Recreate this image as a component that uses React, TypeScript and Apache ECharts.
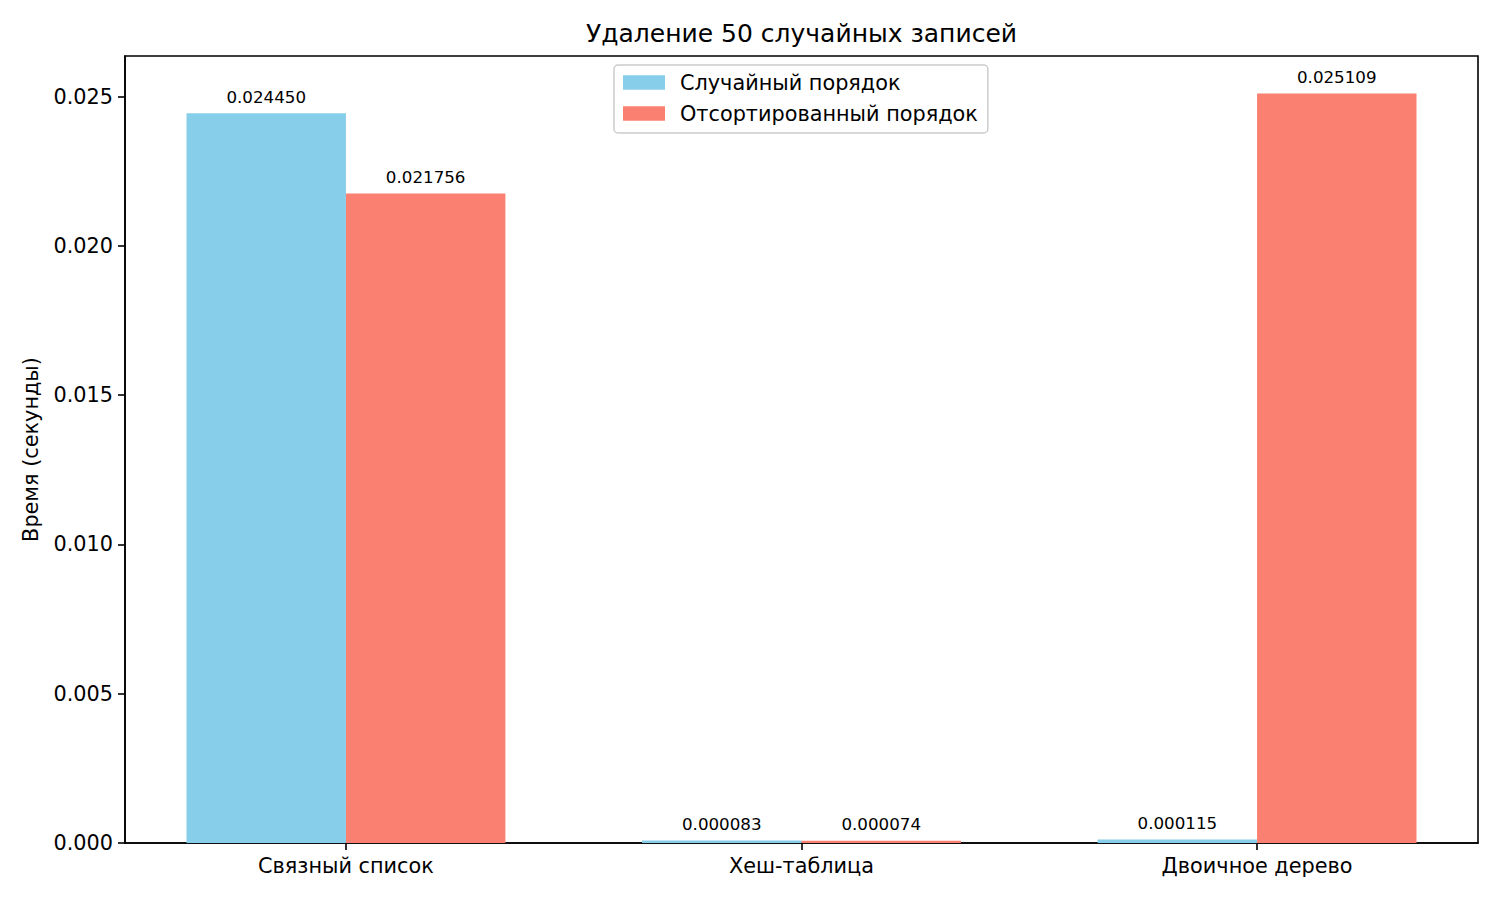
import React, { useEffect, useRef } from "react";
import * as echarts from "echarts";

const categories = ["Связный список", "Хеш-таблица", "Двоичное дерево"];
const categoryPositions = [0, 1, 2];
const seriesNames = ["Случайный порядок", "Отсортированный порядок"];
const randomOrder = [0.02445, 0.000083, 0.000115];
const sortedOrder = [0.021756, 0.000074, 0.025109];
const yTicks = [0, 0.005, 0.01, 0.015, 0.02, 0.025];
const titleText = "Удаление 50 случайных записей";
const yAxisTitle = "Время (секунды)";

const FONT = "DejaVu Sans";
const GRID = { left: 125, right: 22, top: 56, bottom: 57 };
const BAR_UNITS = 0.35;
const X_MIN = -0.485;
const X_MAX = 2.485;

export default function App() {
  const ref = useRef<HTMLDivElement>(null);
  useEffect(() => {
    if (!ref.current) return;
    const chart = echarts.init(ref.current, undefined, { renderer: "svg" });
    const plotWidth = 1500 - GRID.left - GRID.right;
    const barWidth = (BAR_UNITS * plotWidth) / (X_MAX - X_MIN);
    const yMax = Math.max(...randomOrder, ...sortedOrder) * 1.05;
    const labelCfg = {
      show: true,
      position: "top" as const,
      distance: 8,
      fontSize: 16.7,
      fontFamily: FONT,
      color: "#000",
      formatter: (p: any) => Number(p.value[1]).toFixed(6),
    };
    chart.setOption({
      animation: false,
      backgroundColor: "#fff",
      textStyle: { fontFamily: FONT },
      grid: {
        ...GRID,
        show: true,
        borderColor: "#000",
        borderWidth: 1.6,
        backgroundColor: "transparent",
      },
      graphic: [
        {
          type: "text",
          x: GRID.left + plotWidth / 2,
          y: 33,
          style: {
            text: titleText,
            fontSize: 25,
            fontFamily: FONT,
            fill: "#000",
            align: "center",
            verticalAlign: "middle",
          },
        },
      ],
      legend: {
        data: seriesNames,
        orient: "vertical",
        left: 614,
        top: 65,
        icon: "rect",
        itemWidth: 42,
        itemHeight: 14.6,
        itemGap: 10,
        padding: [7, 10, 9, 9],
        borderColor: "#cccccc",
        borderWidth: 1.5,
        borderRadius: 4,
        backgroundColor: "#fff",
        textStyle: { fontSize: 20.8, fontFamily: FONT, color: "#000", padding: [0, 0, 0, 10] },
      },
      xAxis: {
        type: "value",
        min: X_MIN,
        max: X_MAX,
        splitLine: { show: false },
        axisLine: { show: true, onZero: false, lineStyle: { color: "#000", width: 1.6 } },
        axisTick: {
          show: true,
          customValues: categoryPositions,
          length: 7,
          lineStyle: { color: "#000", width: 1.6 },
        },
        axisLabel: {
          customValues: categoryPositions,
          formatter: (v: number) => categories[Math.round(v)] ?? "",
          fontSize: 20.8,
          fontFamily: FONT,
          color: "#000",
          margin: 12,
        },
      },
      yAxis: {
        type: "value",
        min: 0,
        max: yMax,
        name: yAxisTitle,
        nameLocation: "middle",
        nameGap: 84,
        nameTextStyle: { fontSize: 20.8, fontFamily: FONT, color: "#000" },
        splitLine: { show: false },
        axisLine: { show: true, onZero: false, lineStyle: { color: "#000", width: 1.6 } },
        axisTick: {
          show: true,
          customValues: yTicks,
          length: 7,
          lineStyle: { color: "#000", width: 1.6 },
        },
        axisLabel: {
          customValues: yTicks,
          formatter: (v: number) => v.toFixed(3),
          fontSize: 20.8,
          fontFamily: FONT,
          color: "#000",
          margin: 12,
        },
      },
      series: [
        {
          name: seriesNames[0],
          type: "bar",
          barWidth,
          barGap: "-100%",
          itemStyle: { color: "#87CEEB" },
          label: labelCfg,
          data: randomOrder.map((v, i) => [categoryPositions[i] - BAR_UNITS / 2, v]),
        },
        {
          name: seriesNames[1],
          type: "bar",
          barWidth,
          barGap: "-100%",
          itemStyle: { color: "#FA8072" },
          label: labelCfg,
          data: sortedOrder.map((v, i) => [categoryPositions[i] + BAR_UNITS / 2, v]),
        },
      ],
    });
    return () => chart.dispose();
  }, []);
  return (
    <div
      ref={ref}
      style={{ position: "fixed", left: 0, top: 0, width: 1500, height: 900 }}
    />
  );
}
